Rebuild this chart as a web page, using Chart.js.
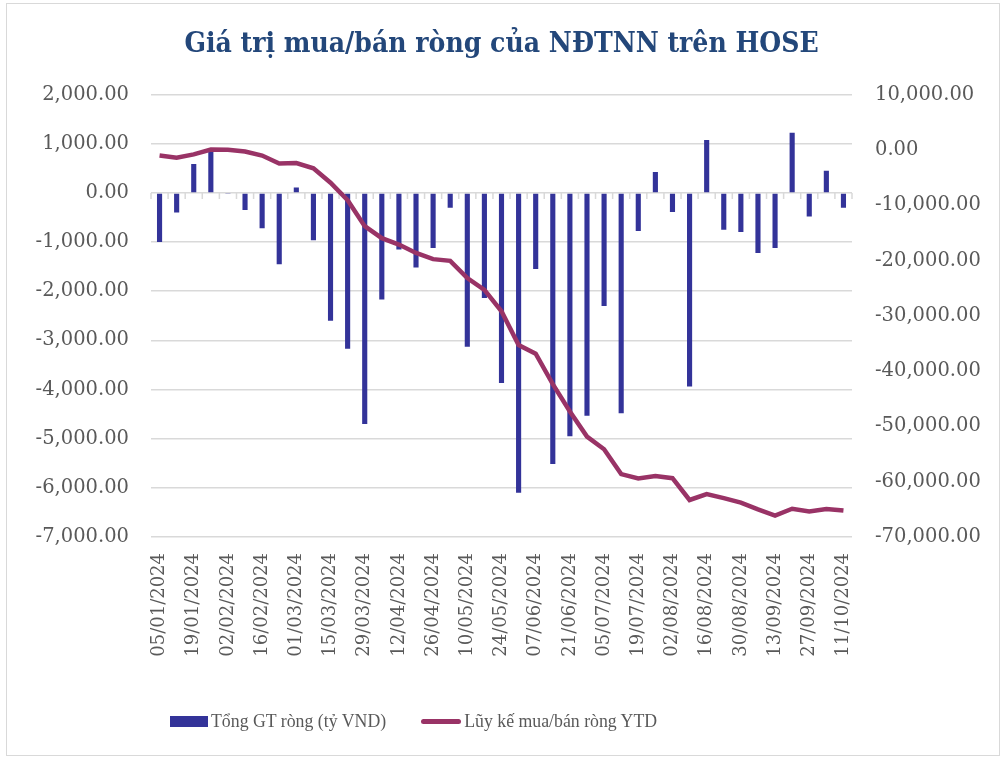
<!DOCTYPE html>
<html lang="vi">
<head>
  <meta charset="UTF-8" />
  <title>Giá trị mua/bán ròng của NĐTNN trên HOSE</title>
  <script src="https://cdn.jsdelivr.net/npm/chart.js@4.4.0/dist/chart.umd.min.js"></script>
  <style>
    body { margin: 0; background: #fff; }
    .wrap { position: relative; width: 1003px; height: 759px; }
    .frame {
      position: absolute; left: 6px; top: 3px; right: 3px; bottom: 3px;
      border: 1px solid #d9d9d9; pointer-events: none;
    }
    .legend {
      position: absolute; left: 170px; top: 711px;
      font-family: "Liberation Serif", serif; font-size: 17.8px; color: #595959;
      display: flex; align-items: center;
    }
    .legend .item { display: flex; align-items: center; margin-right: 35px; }
    .legend .sw-bar { width: 38px; height: 11px; background: #333399; margin-right: 3px; }
    .legend .sw-line { width: 40px; height: 5px; border-radius: 3px; background: #993366; margin-right: 3px; }
  </style>
</head>
<body>
<div class="wrap">
  <canvas id="chart"></canvas>
  <div class="frame"></div>
  <div class="legend" id="legend"></div>
</div>

<script>
  // --- data -----------------------------------------------------
  const weeks = [
    '05/01/2024', '12/01/2024', '19/01/2024', '26/01/2024', '02/02/2024', '09/02/2024',
    '16/02/2024', '23/02/2024', '01/03/2024', '08/03/2024', '15/03/2024', '22/03/2024',
    '29/03/2024', '05/04/2024', '12/04/2024', '19/04/2024', '26/04/2024', '03/05/2024',
    '10/05/2024', '17/05/2024', '24/05/2024', '31/05/2024', '07/06/2024', '14/06/2024',
    '21/06/2024', '28/06/2024', '05/07/2024', '12/07/2024', '19/07/2024', '26/07/2024',
    '02/08/2024', '09/08/2024', '16/08/2024', '23/08/2024', '30/08/2024', '06/09/2024',
    '13/09/2024', '20/09/2024', '27/09/2024', '04/10/2024', '11/10/2024'
  ];

  // weekly net buy/sell (bn VND), left axis
  const netValue = [
    -1000, -400, 590, 875, -20, -350, -720, -1450, 110, -965,
    -2600, -3170, -4700, -2170, -1150, -1515, -1120, -300, -3130, -2140,
    -3865, -6100, -1550, -5515, -4950, -4535, -2300, -4485, -775, 425,
    -390, -3940, 1075, -750, -795, -1220, -1120, 1225, -480, 450, -300
  ];

  // year-to-date cumulative, right axis
  const ytdValue = [
    -1000, -1400, -810, 65, 45, -305, -1025, -2475, -2365, -3330,
    -5930, -9100, -13800, -15970, -17120, -18635, -19755, -20055, -23185, -25325,
    -29190, -35290, -36840, -42355, -47305, -51840, -54140, -58625, -59400, -58975,
    -59365, -63305, -62230, -62980, -63775, -64995, -66115, -64890, -65370, -64920, -65220
  ];

  const seriesNames = ['Tổng GT ròng (tỷ VND)', 'Lũy kế mua/bán ròng YTD'];
  const leftTicks = { min: -7000, max: 2000, step: 1000 };
  const rightTicks = { min: -70000, max: 10000, step: 10000 };

  const fmt = v => v.toLocaleString('en-US', { minimumFractionDigits: 2, maximumFractionDigits: 2 });
  const tickFont = { family: 'DejaVu Serif', size: 19.5 };

  // small tick marks on the zero line, at category boundaries (Excel style)
  const zeroTicks = {
    id: 'zeroTicks',
    beforeDatasetsDraw(chart) {
      const x = chart.scales.x, y = chart.scales.y;
      const y0 = y.getPixelForValue(0);
      const ctx = chart.ctx;
      const half = (x.getPixelForValue(1) - x.getPixelForValue(0)) / 2;
      ctx.save();
      ctx.strokeStyle = '#d9d9d9';
      ctx.lineWidth = 1.5;
      ctx.beginPath();
      for (let i = 0; i <= weeks.length; i++) {
        const px = x.getPixelForValue(i) - half;
        ctx.moveTo(px, y0);
        ctx.lineTo(px, y0 + 6);
      }
      ctx.stroke();
      ctx.restore();
    }
  };

  new Chart(document.getElementById('chart'), {
    data: {
      labels: weeks,
      datasets: [
        {
          type: 'line',
          label: seriesNames[1],
          data: ytdValue,
          yAxisID: 'y2',
          borderColor: '#993366',
          backgroundColor: '#993366',
          borderWidth: 4.5,
          pointRadius: 0,
          tension: 0,
          order: 0
        },
        {
          type: 'bar',
          label: seriesNames[0],
          data: netValue,
          yAxisID: 'y',
          backgroundColor: '#333399',
          barPercentage: 0.3,
          categoryPercentage: 1,
          order: 1
        }
      ]
    },
    options: {
      responsive: true,
      maintainAspectRatio: false,
      animation: false,
      layout: { padding: 0 },
      plugins: {
        legend: { display: false },
        tooltip: { enabled: false },
        title: {
          display: true,
          text: 'Giá trị mua/bán ròng của NĐTNN trên HOSE',
          color: '#23477A',
          font: { family: 'DejaVu Serif Condensed', size: 28, weight: 'bold' },
          padding: { top: 28, bottom: 33 }
        }
      },
      scales: {
        x: {
          offset: true,
          grid: { display: false },
          border: { display: false },
          ticks: {
            autoSkip: false,
            maxRotation: 90,
            minRotation: 90,
            padding: 8,
            color: '#595959',
            font: { family: 'DejaVu Serif', size: 18 },
            callback: (v, i) => (i % 2 === 0 ? weeks[i] : '')
          },
          afterFit: s => { s.height = 222; }
        },
        y: {
          position: 'left',
          min: leftTicks.min,
          max: leftTicks.max,
          border: { display: false },
          grid: { color: '#d9d9d9', lineWidth: 1.5, drawTicks: false },
          ticks: {
            stepSize: leftTicks.step,
            padding: 22,
            color: '#595959',
            font: tickFont,
            callback: v => fmt(v)
          },
          afterFit: s => { s.width = 151; }
        },
        y2: {
          position: 'right',
          min: rightTicks.min,
          max: rightTicks.max,
          border: { display: false },
          grid: { display: false, drawTicks: false },
          ticks: {
            stepSize: rightTicks.step,
            padding: 23,
            color: '#595959',
            font: tickFont,
            callback: v => fmt(v)
          },
          afterFit: s => { s.width = 151; }
        }
      }
    },
    plugins: [zeroTicks]
  });

  // HTML legend built from the series names
  const legend = document.getElementById('legend');
  legend.innerHTML =
    '<div class="item"><span class="sw-bar"></span>' + seriesNames[0] + '</div>' +
    '<div class="item"><span class="sw-line"></span>' + seriesNames[1] + '</div>';
</script>
</body>
</html>
